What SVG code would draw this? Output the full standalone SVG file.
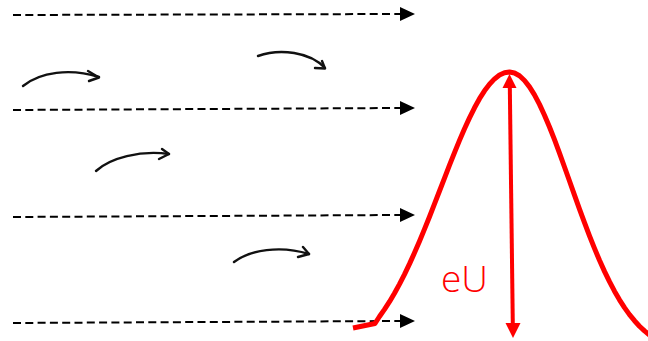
<svg xmlns="http://www.w3.org/2000/svg" width="648" height="341" viewBox="0 0 648 341">
<style>
.dash{fill:none;stroke:#000;stroke-width:2;stroke-dasharray:8 4.3}
.head{fill:#000}
.hand{fill:none;stroke:#111;stroke-width:2.4;stroke-linecap:round;stroke-linejoin:round}
.red{fill:none;stroke:#ff0000;stroke-width:5;stroke-linejoin:round}
.redline{fill:none;stroke:#ff0000;stroke-width:4}
.redhead{fill:#ff0000}
.lbl{font-family:"Open Sans","Liberation Sans",sans-serif;font-weight:300;font-size:37px;fill:#ff0000}
</style>
<g id="connectors">
  <g id="flow1"><path class="dash" d="M13,15 L401,14"/><polygon class="head" points="400,7 415,14 400,21"/></g>
  <g id="flow2"><path class="dash" d="M13,110 L401,108"/><polygon class="head" points="400,101 415,108 400,115"/></g>
  <g id="flow3"><path class="dash" d="M13,217 L401,215"/><polygon class="head" points="400,208 415,215 400,222"/></g>
  <g id="flow4"><path class="dash" d="M13,323 L401,321"/><polygon class="head" points="400,314 415,321 400,328"/></g>
  <g id="swirl1"><path class="hand" d="M23,86 C40,72 70,68 99,77"/><path class="hand" d="M88,71 L99,77.5 L89,81"/></g>
  <g id="swirl2"><path class="hand" d="M258,56 C280,48 310,52 325,68"/><path class="hand" d="M322,61 L325,68.5 L315,68"/></g>
  <g id="swirl3"><path class="hand" d="M96,171 C110,158 140,150 169,154"/><path class="hand" d="M162,149 L169,154 L159,159"/></g>
  <g id="swirl4"><path class="hand" d="M234,262 C250,250 280,245 309,254"/><path class="hand" d="M303,247 L309,254 L298,257"/></g>
</g>
<g id="barrier">
  <path class="red" d="M353,328 L375,323.5 L379.5,316.5 L384.5,309.4 L389.5,301.7 L394.5,293.2 L399.5,284.1 L404.5,274.3 L409.5,263.9 L414.5,252.8 L419.5,241.2 L424.5,229.1 L429.5,216.7 L434.5,203.9 L439.5,191 L444.5,178.1 L449.5,165.2 L454.5,152.6 L459.5,140.4 L464.5,128.8 L469.5,117.9 L474.5,107.8 L479.5,98.7 L484.5,90.8 L489.5,84.2 L494.5,78.9 L499.5,75.1 L504.5,72.8 L509.5,72 L514.5,73 L519.5,75.8 L524.5,80.5 L529.5,86.9 L534.5,94.9 L539.5,104.4 L544.5,115.2 L549.5,127 L554.5,139.7 L559.5,153.1 L564.5,167 L569.5,181 L574.5,195.1 L579.5,209.1 L584.5,222.7 L589.5,235.8 L594.5,248.4 L599.5,260.3 L604.5,271.4 L609.5,281.7 L614.5,291.2 L619.5,299.8 L624.5,307.6 L629.5,314.6 L634.5,320.7 L639.5,326.2 L644.5,330.9 L649.5,335 L654.5,338.5"/>
</g>
<g id="height">
  <path class="redline" d="M509.8,86 L512.8,324"/>
  <polygon class="redhead" points="509.5,74 516.5,88 502.5,88"/>
  <polygon class="redhead" points="513,338 505.5,323 520.5,323"/>
  <text class="lbl" x="441" y="292">eU</text>
</g>
</svg>
